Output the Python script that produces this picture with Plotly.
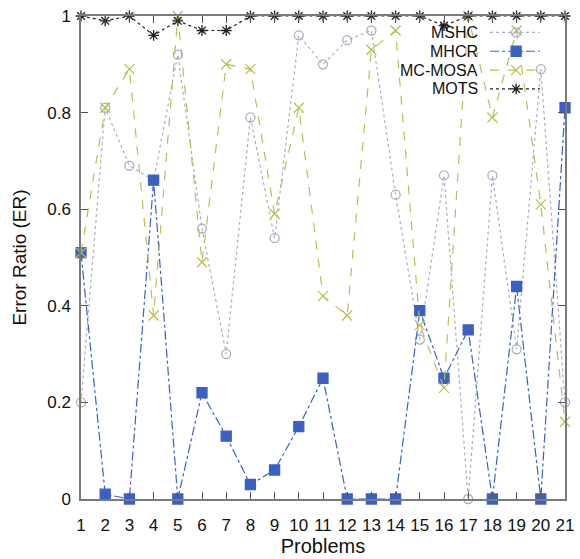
import plotly.graph_objects as go

# Error ratio per test problem for each algorithm
problems = list(range(1, 22))
mshc = [0.20, 0.81, 0.69, 0.66, 0.92, 0.56, 0.30, 0.79, 0.54, 0.96, 0.90,
        0.95, 0.97, 0.63, 0.33, 0.67, 0.00, 0.67, 0.31, 0.89, 0.20]
mhcr = [0.51, 0.01, 0.00, 0.66, 0.00, 0.22, 0.13, 0.03, 0.06, 0.15, 0.25,
        0.00, 0.00, 0.00, 0.39, 0.25, 0.35, 0.00, 0.44, 0.00, 0.81]
mc_mosa = [0.51, 0.81, 0.89, 0.38, 1.00, 0.49, 0.90, 0.89, 0.59, 0.81, 0.42,
           0.38, 0.93, 0.97, 0.36, 0.23, 1.00, 0.79, 0.97, 0.61, 0.16]
mots = [1.00, 0.99, 1.00, 0.96, 0.99, 0.97, 0.97, 1.00, 1.00, 1.00, 1.00,
        1.00, 1.00, 1.00, 1.00, 0.98, 1.00, 1.00, 1.00, 1.00, 1.00]

y_ticks = [0, 0.2, 0.4, 0.6, 0.8, 1]
y_tick_text = ["0", "0.2", "0.4", "0.6", "0.8", "1"]

series = [
    dict(name="MSHC", y=mshc, color="#a7b0c2", dash="dot",
         symbol="circle-open", size=9),
    dict(name="MHCR", y=mhcr, color="#3a60c4", dash="dashdot",
         symbol="square", size=10),
    dict(name="MC-MOSA", y=mc_mosa, color="#bcbf4e", dash="dash",
         symbol="x-thin-open", size=10),
    dict(name="MOTS", y=mots, color="#202020", dash="3px,3px",
         symbol="asterisk-open", size=9),
]

FONT = "Liberation Sans, Arial, sans-serif"
TEXT = "#111111"

fig = go.Figure()
for s in series:
    fig.add_trace(go.Scatter(
        x=problems, y=s["y"], mode="lines+markers", name=s["name"],
        line=dict(color=s["color"], width=1.2, dash=s["dash"]),
        marker=dict(symbol=s["symbol"], size=s["size"], color=s["color"],
                    line=dict(color=s["color"], width=1.3)),
        cliponaxis=False, showlegend=False,
    ))

# Key in the upper right: right-aligned label, then a line sample with marker
key_text_x = 0.823
key_x0, key_x1, key_xm = 0.845, 0.948, 0.899
key_rows = [0.966, 0.927, 0.888, 0.849]
for s, ky in zip(series, key_rows):
    fig.add_trace(go.Scatter(
        x=[key_x0, key_x1], y=[ky, ky], mode="lines", xaxis="x2", yaxis="y2",
        line=dict(color=s["color"], width=1.2, dash=s["dash"]),
        showlegend=False, hoverinfo="skip", cliponaxis=False,
    ))
    fig.add_trace(go.Scatter(
        x=[key_xm], y=[ky], mode="markers", xaxis="x2", yaxis="y2",
        marker=dict(symbol=s["symbol"], size=s["size"], color=s["color"],
                    line=dict(color=s["color"], width=1.3)),
        showlegend=False, hoverinfo="skip", cliponaxis=False,
    ))
    fig.add_annotation(
        x=key_text_x, y=ky, xref="paper", yref="paper", text=s["name"],
        showarrow=False, xanchor="right", yanchor="middle", borderpad=0,
        font=dict(family=FONT, size=16, color=TEXT),
    )

axis_common = dict(
    showgrid=False, zeroline=False, showline=True, linecolor="#7a7a7a",
    linewidth=1.5, mirror="ticks", ticks="inside", ticklen=7,
    tickcolor="#555555", tickwidth=1, automargin=False,
    tickfont=dict(family=FONT, size=17, color=TEXT),
)

fig.update_layout(
    width=580, height=559,
    margin=dict(l=81, r=15, t=16, b=60),
    paper_bgcolor="white", plot_bgcolor="white",
    xaxis=dict(range=[1, 21], tickmode="array", tickvals=problems,
               ticklabelstandoff=10,
               title=dict(text="Problems", standoff=5,
                          font=dict(family=FONT, size=20, color=TEXT)),
               **axis_common),
    yaxis=dict(range=[0, 1], tickmode="array", tickvals=y_ticks,
               ticktext=y_tick_text, ticklabelstandoff=5,
               title=dict(text="Error Ratio (ER)", standoff=16,
                          font=dict(family=FONT, size=19, color=TEXT)),
               **axis_common),
    xaxis2=dict(range=[0, 1], overlaying="x", visible=False),
    yaxis2=dict(range=[0, 1], overlaying="y", visible=False),
)

fig.write_html("out.html")
